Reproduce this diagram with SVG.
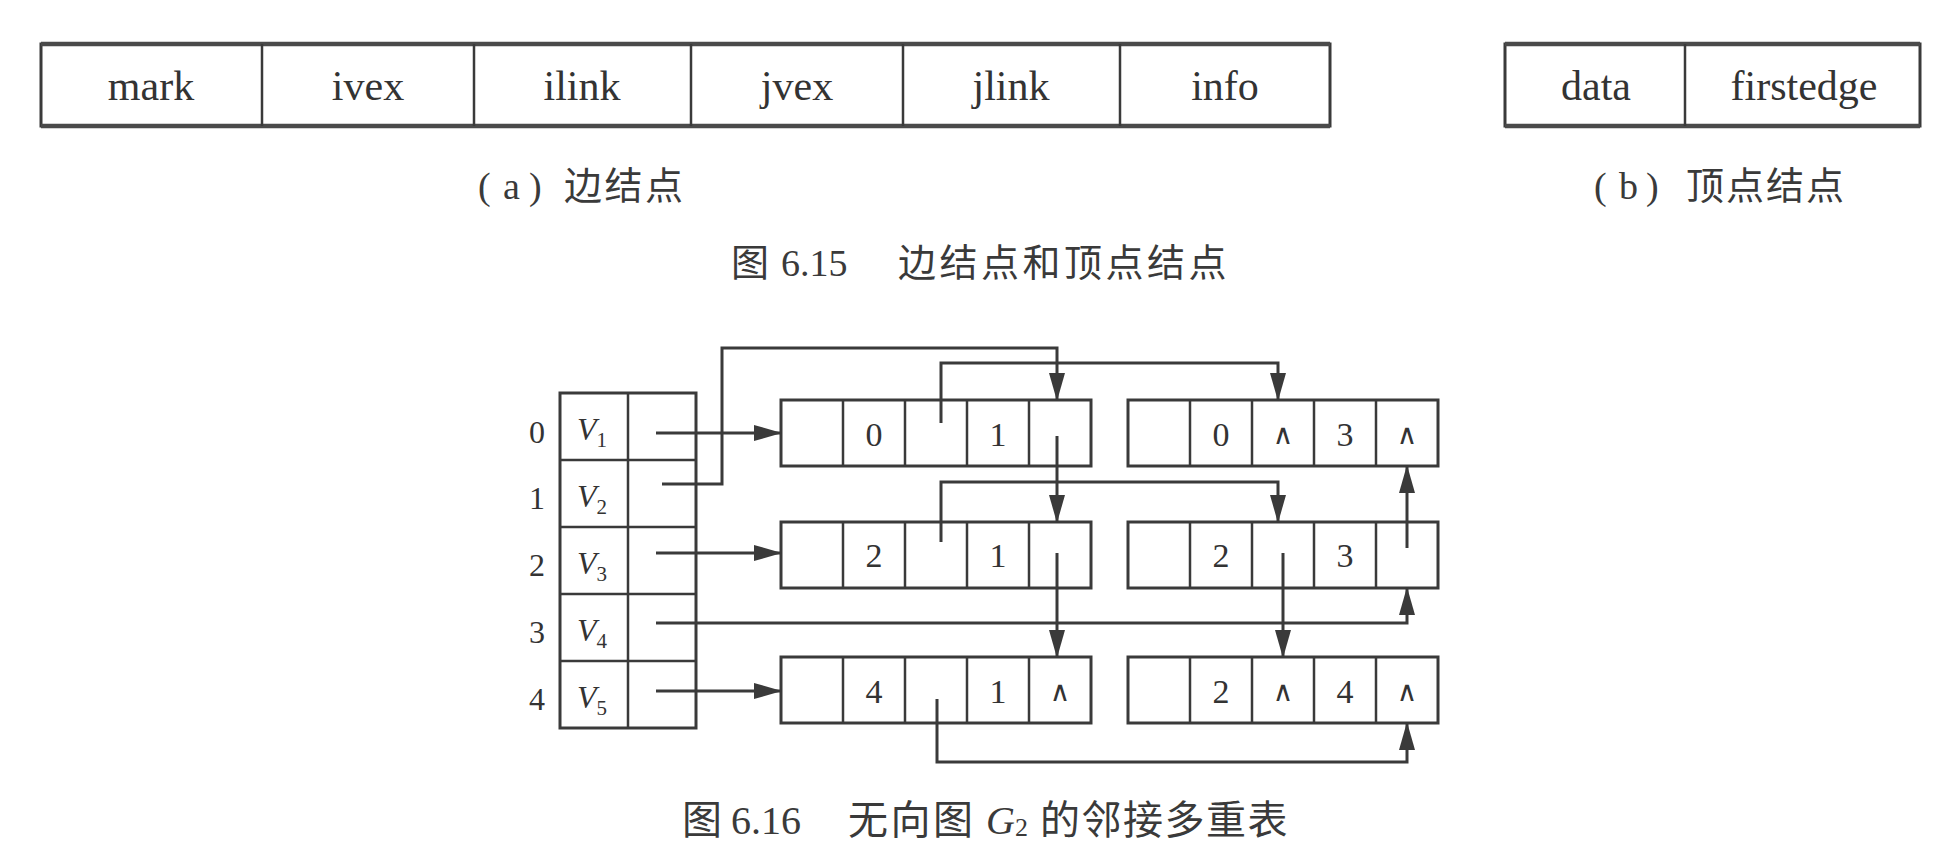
<svg xmlns="http://www.w3.org/2000/svg" width="1945" height="868" viewBox="0 0 1945 868">
<style>
.bg{fill:#ffffff}
.box{fill:none;stroke:#3a3a3a;stroke-width:3}
.hb{stroke:#4a4a4a;stroke-width:4.5}
.dv{stroke:#3a3a3a;stroke-width:2.5}
.ln{fill:none;stroke:#3a3a3a;stroke-width:3}
.t{font-family:"Liberation Serif","Times New Roman",serif;fill:#333}
.f{font-size:42px;text-anchor:middle}
.d{font-size:34px;text-anchor:middle}
.idx{font-size:32px;text-anchor:middle}
.v{font-size:32px;font-style:italic}
.sub{font-size:21px;font-style:normal}
.nil{font-family:"DejaVu Sans",sans-serif;font-size:28px;text-anchor:middle;fill:#333}
.cj{font-family:"Liberation Serif","Noto Sans CJK SC",serif;fill:#3a3a3a}
.cjk{font-family:"Noto Sans CJK SC",sans-serif;fill:#3a3a3a}
</style>
<defs>
<marker id="ah" markerWidth="28" markerHeight="16" refX="27" refY="8" orient="auto" markerUnits="userSpaceOnUse">
<path d="M0,0 L28,8 L0,16 Z" fill="#3a3a3a"/>
</marker>
</defs>
<rect class="bg" x="0" y="0" width="1945" height="868"/>

<!-- Figure 6.15 (a) edge node layout -->
<g id="edge-node-format">
<rect class="box" x="41" y="44" width="1289" height="82"/>
<line class="hb" x1="41" y1="44" x2="1330" y2="44"/>
<line class="hb" x1="41" y1="126" x2="1330" y2="126"/>
<line class="dv" x1="262" y1="44" x2="262" y2="126"/>
<line class="dv" x1="474" y1="44" x2="474" y2="126"/>
<line class="dv" x1="691" y1="44" x2="691" y2="126"/>
<line class="dv" x1="903" y1="44" x2="903" y2="126"/>
<line class="dv" x1="1120" y1="44" x2="1120" y2="126"/>
<text class="t f" x="151" y="100">mark</text>
<text class="t f" x="368" y="100">ivex</text>
<text class="t f" x="582" y="100">ilink</text>
<text class="t f" x="797" y="100">jvex</text>
<text class="t f" x="1011" y="100">jlink</text>
<text class="t f" x="1225" y="100">info</text>
</g>

<!-- Figure 6.15 (b) vertex node layout -->
<g id="vertex-node-format">
<rect class="box" x="1505" y="44" width="415" height="82"/>
<line class="hb" x1="1505" y1="44" x2="1920" y2="44"/>
<line class="hb" x1="1505" y1="126" x2="1920" y2="126"/>
<line class="dv" x1="1685" y1="44" x2="1685" y2="126"/>
<text class="t f" x="1596" y="100">data</text>
<text class="t f" x="1804" y="100">firstedge</text>
</g>

<g id="captions-615">
<text class="cj" font-size="38" y="199"><tspan x="478">(</tspan><tspan x="503">a</tspan><tspan x="529">)</tspan><tspan class="cjk" x="564" letter-spacing="2.5">边结点</tspan></text>
<text class="cj" font-size="38" y="199"><tspan x="1594">(</tspan><tspan x="1619">b</tspan><tspan x="1646">)</tspan><tspan class="cjk" x="1686" letter-spacing="2">顶点结点</tspan></text>
<text class="cj" font-size="38" y="276"><tspan class="cjk" x="731">图</tspan><tspan x="781">6.15</tspan><tspan class="cjk" x="898" letter-spacing="3.5">边结点和顶点结点</tspan></text>
</g>

<!-- Figure 6.16 vertex table -->
<g id="vertex-table">
<rect class="box" x="560" y="393" width="136" height="335"/>
<line class="dv" x1="628" y1="393" x2="628" y2="728"/>
<line class="dv" x1="560" y1="460" x2="696" y2="460"/>
<line class="dv" x1="560" y1="527" x2="696" y2="527"/>
<line class="dv" x1="560" y1="594" x2="696" y2="594"/>
<line class="dv" x1="560" y1="661" x2="696" y2="661"/>
<text class="t idx" x="537" y="443">0</text>
<text class="t idx" x="537" y="509">1</text>
<text class="t idx" x="537" y="576">2</text>
<text class="t idx" x="537" y="643">3</text>
<text class="t idx" x="537" y="710">4</text>
<text class="t v" x="577" y="440">V<tspan class="sub" dy="7">1</tspan></text>
<text class="t v" x="577" y="507">V<tspan class="sub" dy="7">2</tspan></text>
<text class="t v" x="577" y="574">V<tspan class="sub" dy="7">3</tspan></text>
<text class="t v" x="577" y="641">V<tspan class="sub" dy="7">4</tspan></text>
<text class="t v" x="577" y="708">V<tspan class="sub" dy="7">5</tspan></text>
</g>

<!-- Edge nodes -->
<g id="edge-01">
<rect class="box" x="781" y="400" width="310" height="66"/>
<line class="dv" x1="843" y1="400" x2="843" y2="466"/>
<line class="dv" x1="905" y1="400" x2="905" y2="466"/>
<line class="dv" x1="967" y1="400" x2="967" y2="466"/>
<line class="dv" x1="1029" y1="400" x2="1029" y2="466"/>
<text class="t d" x="874" y="446">0</text>
<text class="t d" x="998" y="446">1</text>
</g>
<g id="edge-03">
<rect class="box" x="1128" y="400" width="310" height="66"/>
<line class="dv" x1="1190" y1="400" x2="1190" y2="466"/>
<line class="dv" x1="1252" y1="400" x2="1252" y2="466"/>
<line class="dv" x1="1314" y1="400" x2="1314" y2="466"/>
<line class="dv" x1="1376" y1="400" x2="1376" y2="466"/>
<text class="t d" x="1221" y="446">0</text>
<text class="nil" x="1283" y="444">∧</text>
<text class="t d" x="1345" y="446">3</text>
<text class="nil" x="1407" y="444">∧</text>
</g>
<g id="edge-21">
<rect class="box" x="781" y="522" width="310" height="66"/>
<line class="dv" x1="843" y1="522" x2="843" y2="588"/>
<line class="dv" x1="905" y1="522" x2="905" y2="588"/>
<line class="dv" x1="967" y1="522" x2="967" y2="588"/>
<line class="dv" x1="1029" y1="522" x2="1029" y2="588"/>
<text class="t d" x="874" y="567">2</text>
<text class="t d" x="998" y="567">1</text>
</g>
<g id="edge-23">
<rect class="box" x="1128" y="522" width="310" height="66"/>
<line class="dv" x1="1190" y1="522" x2="1190" y2="588"/>
<line class="dv" x1="1252" y1="522" x2="1252" y2="588"/>
<line class="dv" x1="1314" y1="522" x2="1314" y2="588"/>
<line class="dv" x1="1376" y1="522" x2="1376" y2="588"/>
<text class="t d" x="1221" y="567">2</text>
<text class="t d" x="1345" y="567">3</text>
</g>
<g id="edge-41">
<rect class="box" x="781" y="657" width="310" height="66"/>
<line class="dv" x1="843" y1="657" x2="843" y2="723"/>
<line class="dv" x1="905" y1="657" x2="905" y2="723"/>
<line class="dv" x1="967" y1="657" x2="967" y2="723"/>
<line class="dv" x1="1029" y1="657" x2="1029" y2="723"/>
<text class="t d" x="874" y="703">4</text>
<text class="t d" x="998" y="703">1</text>
<text class="nil" x="1060" y="701">∧</text>
</g>
<g id="edge-24">
<rect class="box" x="1128" y="657" width="310" height="66"/>
<line class="dv" x1="1190" y1="657" x2="1190" y2="723"/>
<line class="dv" x1="1252" y1="657" x2="1252" y2="723"/>
<line class="dv" x1="1314" y1="657" x2="1314" y2="723"/>
<line class="dv" x1="1376" y1="657" x2="1376" y2="723"/>
<text class="t d" x="1221" y="703">2</text>
<text class="nil" x="1283" y="701">∧</text>
<text class="t d" x="1345" y="703">4</text>
<text class="nil" x="1407" y="701">∧</text>
</g>

<g id="connectors">
<path class="ln" d="M656,433 H781" marker-end="url(#ah)"/>
<path class="ln" d="M662,484 H722 V348 H1057 V400" marker-end="url(#ah)"/>
<path class="ln" d="M941,423 V363 H1278 V400" marker-end="url(#ah)"/>
<path class="ln" d="M1057,436 V522" marker-end="url(#ah)"/>
<path class="ln" d="M941,542 V482 H1278 V522" marker-end="url(#ah)"/>
<path class="ln" d="M656,553 H781" marker-end="url(#ah)"/>
<path class="ln" d="M1407,548 V466" marker-end="url(#ah)"/>
<path class="ln" d="M1057,553 V657" marker-end="url(#ah)"/>
<path class="ln" d="M1283,553 V657" marker-end="url(#ah)"/>
<path class="ln" d="M656,623 H1407 V588" marker-end="url(#ah)"/>
<path class="ln" d="M656,691 H781" marker-end="url(#ah)"/>
<path class="ln" d="M937,699 V762 H1407 V723" marker-end="url(#ah)"/>
</g>

<g id="caption-616">
<text class="cj" font-size="40" y="834"><tspan class="cjk" x="682">图</tspan><tspan x="731">6.16</tspan><tspan class="cjk" x="848" letter-spacing="2.5">无向图</tspan><tspan x="986" font-style="italic">G</tspan><tspan font-size="26" dy="2">2</tspan><tspan class="cjk" x="1040" dy="-2" letter-spacing="1.5">的邻接多重表</tspan></text>
</g>
</svg>
